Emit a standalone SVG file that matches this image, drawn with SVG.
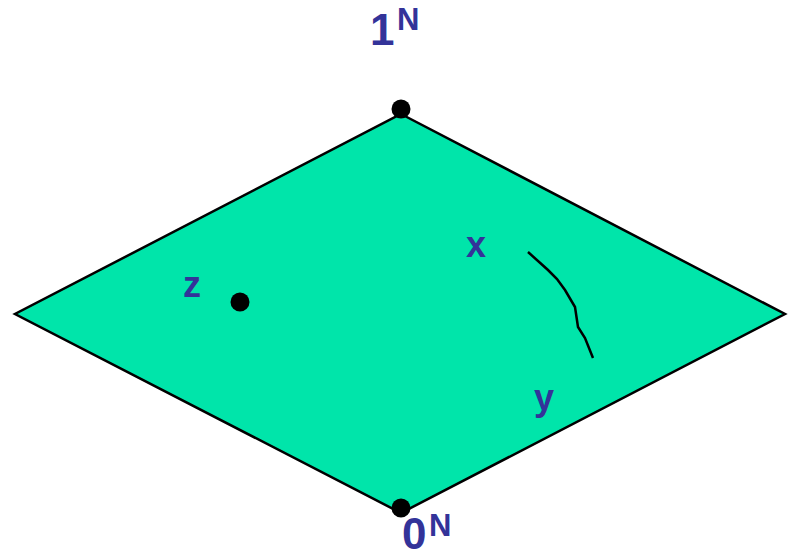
<svg xmlns="http://www.w3.org/2000/svg" width="794" height="558" viewBox="0 0 794 558">
<style>
.lbl{font-family:"Liberation Sans",Arial,sans-serif;font-weight:bold;fill:#333399}
.big{font-size:44px}
.sup{font-size:31px}
.var{font-size:36px}
.dot{fill:#000}
</style>
<rect width="794" height="558" fill="#fff"/>
<g id="plane">
<polygon points="401,114 785,314 401,513 15,314" fill="#00E5AA" stroke="#000" stroke-width="2.5"/>
</g>
<g id="connectors">
<path d="M528,252 L548,270 L557,279 L565,290 L575,307 L578,327 L585,338 L593,358" fill="none" stroke="#000" stroke-width="2.5"/>
</g>
<g id="top"><circle class="dot" cx="401" cy="109" r="9.5"/><text class="lbl big" x="370" y="45">1</text><text class="lbl sup" x="397" y="30">N</text></g>
<g id="bottom"><circle class="dot" cx="401" cy="508" r="9.5"/><text class="lbl big" x="402" y="549">0</text><text class="lbl sup" x="429" y="536">N</text></g>
<g id="z"><circle class="dot" cx="240" cy="302" r="9.5"/><text class="lbl var" x="183" y="297">z</text></g>
<g id="x"><text class="lbl var" x="466" y="257">x</text></g>
<g id="y"><text class="lbl var" x="534" y="410">y</text></g>
</svg>
